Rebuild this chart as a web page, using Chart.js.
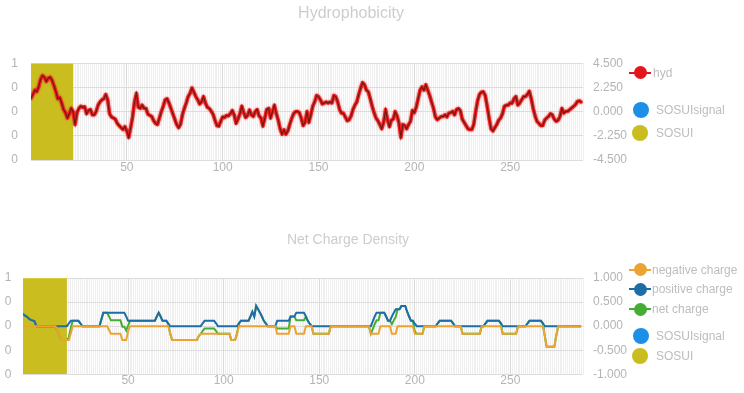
<!DOCTYPE html>
<html><head><meta charset="utf-8">
<script src="https://cdn.jsdelivr.net/npm/chart.js@4/dist/chart.umd.min.js"></script>
<style>
html,body{margin:0;padding:0;background:#fff;width:744px;height:393px;overflow:hidden;font-family:"Liberation Sans",Arial,sans-serif;}
canvas{position:absolute;left:0;}
#c1{top:0;}
#c2{top:220px;}
.lg{position:absolute;font-size:12px;color:#bdbdbd;white-space:nowrap;line-height:14px;}
.mk{position:absolute;border-radius:50%;}
.ln{position:absolute;height:2px;}
</style></head><body>
<canvas id="c1" width="702" height="195"></canvas>
<canvas id="c2" width="696" height="173"></canvas>
<div id="legend"></div>
<script>
// ---------- DATA ----------
// Hydrophobicity per residue (residue index 0..287)
const hydStart = 0;
const hyd = [
 1.24, 1.6, 2.0, 1.85, 2.3, 3.0, 3.35, 3.2, 2.8, 3.1,
 3.2, 2.9, 2.4, 1.85, 1.2, 1.3, 0.8, 0.2, -0.1, -0.6,
 -0.2, 0.3, 0.0, -1.2, -0.1, 0.3, 0.5, 0.4, 0.45, -0.2,
 0.1, 0.2, -0.3, -0.3, 0.0, 0.6, 0.9, 1.1, 1.2, 1.6,
 1.1, -0.2, -0.5, -0.6, -0.7, -1.1, -1.3, -1.5, -1.65, -1.4,
 -1.8, -2.4, -1.5, -0.5, 0.9, 1.7, 0.4, 0.3, 0.6, 0.3,
 0.3, -0.25, -0.35, -0.45, -0.85, -1.1, -1.2, -0.6, 0.0, 0.5,
 1.1, 1.2, 0.8, 0.3, -0.2, -0.7, -1.2, -1.5, -1.2, -0.3,
 0.3, 0.8, 1.4, 1.7, 2.2, 1.8, 1.4, 1.1, 0.7, 0.9,
 1.4, 0.8, 0.4, 0.3, 0.05, -0.25, -0.8, -1.3, -1.36, -0.9,
 -0.5, -0.55, -0.35, -0.4, -0.2, 0.1, -0.3, -1.1, -0.7, -0.2,
 0.5, -0.1, -0.55, -0.35, 0.15, -0.3, -0.45, 0.0, 0.2, -0.4,
 -0.6, -1.35, -0.6, 0.2, 0.3, -0.6, 0.0, 0.6, -0.2, -0.8,
 -1.6, -2.1, -1.7, -2.1, -1.8, -1.2, -0.65, -0.2, 0.0, 0.02,
 -0.1, -0.6, -1.3, -1.0, 0.0, -1.0, -0.3, 0.5, 0.9, 1.5,
 1.4, 1.1, 0.7, 0.8, 0.9, 0.8, 0.9, 0.8, 1.5, 1.4,
 0.9, 0.2, -0.14, -0.15, -0.5, -0.85, -0.75, -0.4, 0.2, 0.6,
 0.9, 1.6, 2.2, 2.7, 2.5, 2.0, 1.85, 1.2, 0.5, -0.1,
 -0.6, -0.85, -1.2, -1.6, -1.0, 0.2, -0.75, -1.4, -0.8, -0.7,
 0.0, -0.4, -1.1, -2.4, -1.2, -1.3, -1.6, -1.2, -0.9, 0.1,
 -0.1, 0.4, 1.2, 2.0, 2.3, 2.0, 2.5, 2.0, 1.5, 0.9,
 0.3, -0.5, -0.75, -0.6, -0.45, -0.45, -0.3, -0.5, -0.14, -0.1,
 0.02, -0.3, 0.2, 0.3, 0.1, -0.7, -1.0, -1.3, -1.6, -1.67,
 -1.67, -1.2, 0.0, 1.0, 1.6, 1.8, 1.85, 1.5, 0.5, -0.6,
 -1.6, -1.8, -1.5, -1.2, -0.8, -0.6, -0.2, 0.5, 0.6, 0.6,
 0.8, 0.78, 1.2, 1.4, 0.6, 0.8, 1.1, 1.4, 1.4, 1.6,
 1.9, 1.2, 0.3, -0.4, -0.9, -1.1, -1.3, -1.3, -0.8, -0.6,
 -0.45, -0.2, -0.3, -0.7, -0.9, -0.8, -0.45, 0.3, -0.14, 0.02,
 0.02, 0.17, 0.32, 0.47, 0.63, 0.93, 1.0, 0.9
];
// SOSUI predicted segment (residue from, to) on each panel
const sosuiTop = [0, 22];
const sosuiBottom = [-5, 18];
const sosuiSignal = [];

// Charge density per position (position -5..287)
const chargeStart = -5;
const positiveCharge = [
 0.25,0.22,0.2,0.16,0.13,0.12,0.1,0,0,0,
 0,0,0,0,0,0,0,0,0,0,
 0,0,0,0,0.06,0.11,0.11,0.11,0.11,0.11,
 0.06,0,0,0,0,0,0,0,0,0,
 0,0.14,0.28,0.28,0.28,0.28,0.28,0.28,0.28,0.28,
 0.28,0.28,0.28,0.28,0.2,0.11,0.11,0.11,0.11,0.11,
 0.11,0.11,0.11,0.11,0.11,0.11,0.11,0.11,0.11,0.11,
 0.2,0.28,0.2,0.11,0.11,0.11,0.05,0,0,0,
 0,0,0,0,0,0,0,0,0,0,
 0,0,0,0,0.06,0.11,0.11,0.11,0.11,0.11,
 0.11,0.06,0,0,0,0,0,0,0,0,
 0,0,0,0.06,0.11,0.11,0.11,0.11,0.11,0.2,
 0.3,0.2,0.42,0.35,0.28,0.2,0.11,0.06,0,0,
 0,0,0,0.11,0.11,0.11,0.11,0.11,0.11,0.11,
 0.2,0.2,0.2,0.28,0.28,0.28,0.28,0.28,0.2,0.11,
 0.05,0,0,0,0,0,0,0,0,0,
 0,0,0,0,0,0,0,0,0,0,
 0,0,0,0,0,0,0,0,0,0,
 0,0,0,0.1,0.2,0.28,0.28,0.28,0.28,0.28,
 0.2,0.11,0.11,0.2,0.28,0.35,0.35,0.35,0.42,0.42,
 0.42,0.3,0.2,0.11,0.11,0.05,0,0,0,0,
 0,0,0,0,0,0,0,0.06,0.11,0.11,
 0.11,0.11,0.11,0.11,0.11,0.06,0,0,0,0,
 0,0,0,0,0,0,0,0,0,0,
 0,0,0.06,0.11,0.11,0.11,0.11,0.11,0.11,0.11,
 0.06,0,0,0,0,0,0,0,0,0,
 0,0,0,0,0.06,0.11,0.11,0.11,0.11,0.11,
 0.11,0.11,0.06,0,0,0,0,0,0,0,
 0,0,0,0,0,0,0,0,0,0,
 0,0,0
];
const negativeCharge = [
 0,0,0,0,0,0,0,0,0,0,
 0,0,0,0,0,0,0,0,-0.1,-0.2,
 -0.29,-0.29,-0.29,-0.29,-0.29,-0.15,0,0,0,0,
 0,0,0,0,0,0,0,0,0,0,
 0,0,0,0,0,-0.08,-0.16,-0.16,-0.16,-0.16,
 -0.16,-0.16,-0.29,-0.29,-0.29,-0.1,0,0,0,0,
 0,0,0,0,0,0,0,0,0,0,
 0,0,0,0,0,0,0,-0.15,-0.29,-0.29,
 -0.29,-0.29,-0.29,-0.29,-0.29,-0.29,-0.29,-0.29,-0.29,-0.29,
 -0.29,-0.29,-0.2,-0.16,-0.16,-0.16,-0.16,-0.16,-0.16,-0.16,
 -0.16,-0.16,-0.16,-0.16,-0.16,-0.16,-0.16,-0.16,-0.16,-0.29,
 -0.29,-0.29,-0.15,0,0,0,0,0,0,0,
 0,0,0,0,0,0,0,0,0,0,
 0,0,0,-0.16,-0.16,-0.16,-0.16,-0.16,-0.16,-0.16,
 0,0,0,-0.16,-0.16,-0.16,-0.16,-0.16,0,0,
 0,0,-0.16,-0.16,-0.16,-0.16,-0.16,-0.16,-0.16,-0.16,
 -0.16,0,0,0,0,0,0,0,0,0,
 0,0,0,0,0,0,0,0,0,0,
 0,0,-0.16,-0.16,-0.16,-0.16,-0.16,0,0,0,
 0,0,0,-0.16,-0.16,-0.16,0,0,0,0,
 0,0,0,0,0,-0.16,-0.16,-0.16,-0.16,-0.16,
 0,0,0,0,0,0,0,0,0,0,
 0,0,0,0,0,0,0,0,0,0,
 -0.16,-0.16,-0.16,-0.16,-0.16,-0.16,-0.16,-0.16,-0.16,-0.16,
 0,0,0,0,0,0,0,0,0,0,
 0,-0.16,-0.16,-0.16,-0.16,-0.16,-0.16,-0.16,-0.16,0,
 0,0,0,0,0,0,0,0,0,0,
 0,0,0,-0.2,-0.43,-0.43,-0.43,-0.43,-0.43,-0.2,
 0,0,0,0,0,0,0,0,0,0,
 0,0,0
];
const netCharge = [
 0.25,0.22,0.2,0.16,0.13,0.12,0.1,0,0,0,
 0,0,0,0,0,0,0,0,-0.1,-0.2,
 -0.29,-0.29,-0.29,-0.29,-0.23,-0.04,0.11,0.11,0.11,0.11,
 0.06,0,0,0,0,0,0,0,0,0,
 0,0.14,0.28,0.28,0.28,0.2,0.12,0.12,0.12,0.12,
 0.12,0.12,-0.01,-0.01,-0.09,0.01,0.11,0.11,0.11,0.11,
 0.11,0.11,0.11,0.11,0.11,0.11,0.11,0.11,0.11,0.11,
 0.2,0.28,0.2,0.11,0.11,0.11,0.05,-0.15,-0.29,-0.29,
 -0.29,-0.29,-0.29,-0.29,-0.29,-0.29,-0.29,-0.29,-0.29,-0.29,
 -0.29,-0.29,-0.2,-0.16,-0.1,-0.05,-0.05,-0.05,-0.05,-0.05,
 -0.05,-0.1,-0.16,-0.16,-0.16,-0.16,-0.16,-0.16,-0.16,-0.29,
 -0.29,-0.29,-0.15,0.06,0.11,0.11,0.11,0.11,0.11,0.2,
 0.3,0.2,0.42,0.35,0.28,0.2,0.11,0.06,0,0,
 0,0,0,-0.05,-0.05,-0.05,-0.05,-0.05,-0.05,-0.05,
 0.2,0.2,0.2,0.12,0.12,0.12,0.12,0.12,0.2,0.11,
 0.05,0,-0.16,-0.16,-0.16,-0.16,-0.16,-0.16,-0.16,-0.16,
 -0.16,0,0,0,0,0,0,0,0,0,
 0,0,0,0,0,0,0,0,0,0,
 0,0,-0.16,-0.06,0.04,0.12,0.12,0.28,0.28,0.28,
 0.2,0.11,0.11,0.04,0.12,0.19,0.35,0.35,0.42,0.42,
 0.42,0.3,0.2,0.11,0.11,-0.11,-0.16,-0.16,-0.16,-0.16,
 0,0,0,0,0,0,0,0.06,0.11,0.11,
 0.11,0.11,0.11,0.11,0.11,0.06,0,0,0,0,
 -0.16,-0.16,-0.16,-0.16,-0.16,-0.16,-0.16,-0.16,-0.16,-0.16,
 0,0,0.06,0.11,0.11,0.11,0.11,0.11,0.11,0.11,
 0.06,-0.16,-0.16,-0.16,-0.16,-0.16,-0.16,-0.16,-0.16,0,
 0,0,0,0,0.06,0.11,0.11,0.11,0.11,0.11,
 0.11,0.11,0.06,-0.2,-0.43,-0.43,-0.43,-0.43,-0.43,-0.2,
 0,0,0,0,0,0,0,0,0,0,
 0,0,0
];
// Tick labels
const topLeftTicks = ['0','0','0','0','1'];      // bottom -> top
const bottomLeftTicks = ['0','0','0','0','1'];
const xTickLabels = [50, 100, 150, 200, 250];
const topTitle = 'Hydrophobicity';
const bottomTitle = 'Net Charge Density';

// ---------- STYLE ----------
const FONT = '"Liberation Sans", Arial, sans-serif';
const C = {
  hyd:'#6e1612', hydHalo:'rgba(236,30,30,0.95)', hydLegend:'#e3161b', sosui:'#c9bd20', sosuiEdge:'#e4dc5a',
  signal:'#1e8fe6', neg:'#eda332', pos:'#1f6da6', net:'#46ad34',
  tick:'#b4b4b4', title:'#cdcdcd', gridMinor:'#efefef', gridMajor:'#d9d9d9', gridH:'#dddddd'
};

// halo under the hydrophobicity line, stroked through the points the library placed
const halo = {
  id:'halo',
  beforeDatasetDraw(chart, args){
    const ds = chart.data.datasets[args.index];
    if (!ds.halo) return;
    const c = chart.ctx, a = chart.chartArea, pts = args.meta.data;
    c.save();
    c.beginPath(); c.rect(a.left, a.top, a.right - a.left, a.bottom - a.top); c.clip();
    c.beginPath();
    pts.forEach((p, i) => i ? c.lineTo(p.x, p.y) : c.moveTo(p.x, p.y));
    c.strokeStyle = ds.halo; c.lineWidth = 3.4; c.lineJoin = 'round'; c.lineCap = 'round';
    c.shadowColor = ds.halo; c.shadowBlur = 2;
    c.stroke();
    c.restore();
  }
};

function xScale(min, max, pad, h){
  return {
    type:'linear', min:min, max:max,
    ticks:{stepSize:1, autoSkip:false, maxRotation:0, minRotation:0, color:C.tick, padding:pad,
      font:{family:FONT, size:12},
      callback:v => xTickLabels.includes(v) ? String(v) : ''},
    grid:{drawTicks:false, lineWidth:1,
      color:ctx => (ctx.tick && ctx.tick.value % 50 === 0) ? C.gridMajor : C.gridMinor},
    border:{display:false},
    afterFit:s => { s.height = h; }
  };
}
function leftScale(labels, pad, w){
  return {position:'left', min:0, max:1,
    ticks:{stepSize:0.25, padding:pad, color:C.tick, font:{family:FONT, size:12}, callback:(v,i)=>labels[i]},
    grid:{display:false, drawTicks:false}, border:{display:false}, afterFit:s => { s.width = w; }};
}
function rightScale(lim, step, w){
  return {position:'right', min:-lim, max:lim,
    ticks:{stepSize:step, padding:10, color:C.tick, font:{family:FONT, size:12}, callback:v=>v.toFixed(3)},
    grid:{color:C.gridH, drawTicks:false}, border:{display:false}, afterFit:s => { s.width = w; }};
}
function segPoints(seg){ return seg.length ? [{x:seg[0], y:1}, {x:seg[1], y:1}] : []; }

// ---------- TOP CHART ----------
new Chart(document.getElementById('c1'), {
  type:'line',
  data:{datasets:[
    {label:'hyd', data:hyd.map((v,i)=>({x:hydStart+i, y:v})), yAxisID:'yR',
     borderColor:C.hyd, halo:C.hydHalo, borderWidth:1.1, pointRadius:0, tension:0, fill:false},
    {label:'SOSUIsignal', data:segPoints(sosuiSignal), yAxisID:'yL', backgroundColor:C.signal, borderWidth:0, pointRadius:0, fill:'origin'},
    {label:'SOSUI', data:segPoints(sosuiTop), yAxisID:'yL', backgroundColor:C.sosui,
     borderColor:C.sosuiEdge, borderWidth:1, pointRadius:0, fill:'origin'}
  ]},
  options:{
    responsive:false, animation:false, devicePixelRatio:1,
    layout:{padding:{left:0, right:0, top:0, bottom:15}},
    plugins:{legend:{display:false}, tooltip:{enabled:false},
      title:{display:true, text:topTitle, color:C.title, font:{family:FONT, size:16, weight:'normal'}, padding:{top:4, bottom:40}}},
    scales:{
      x:xScale(0, 288, 0, 20),
      yL:leftScale(topLeftTicks, 13, 31),
      yR:rightScale(4.5, 2.25, 119)
    }
  },
  plugins:[halo]
});

// ---------- BOTTOM CHART ----------
const chargePts = arr => arr.map((v,i)=>({x:chargeStart+i, y:v}));
new Chart(document.getElementById('c2'), {
  type:'line',
  data:{datasets:[
    {label:'negative charge', data:chargePts(negativeCharge), yAxisID:'yR', borderColor:C.neg, borderWidth:2, pointRadius:0, tension:0, fill:false},
    {label:'positive charge', data:chargePts(positiveCharge), yAxisID:'yR', borderColor:C.pos, borderWidth:2, pointRadius:0, tension:0, fill:false},
    {label:'net charge', data:chargePts(netCharge), yAxisID:'yR', borderColor:C.net, borderWidth:2, pointRadius:0, tension:0, fill:false},
    {label:'SOSUIsignal', data:segPoints(sosuiSignal), yAxisID:'yL', backgroundColor:C.signal, borderWidth:0, pointRadius:0, fill:'origin'},
    {label:'SOSUI', data:segPoints(sosuiBottom), yAxisID:'yL', backgroundColor:C.sosui,
     borderColor:C.sosuiEdge, borderWidth:1, pointRadius:0, fill:'origin'}
  ]},
  options:{
    responsive:false, animation:false, devicePixelRatio:1,
    layout:{padding:{left:0, right:0, top:0, bottom:0}},
    plugins:{legend:{display:false}, tooltip:{enabled:false},
      title:{display:true, text:bottomTitle, color:C.title, font:{family:FONT, size:14, weight:'normal'}, padding:{top:11.6, bottom:29.6}}},
    scales:{
      x:xScale(-5, 288, -1, 16),
      yL:leftScale(bottomLeftTicks, 11.5, 23),
      yR:rightScale(1, 0.5, 113)
    }
  }
});

// ---------- LEGENDS (HTML) ----------
const legendItems = [
  {name:'hyd', color:C.hydLegend, kind:'line', cx:640, cy:72.5, tx:653},
  {name:'SOSUIsignal', color:C.signal, kind:'dot', cx:641, cy:110, tx:656},
  {name:'SOSUI', color:C.sosui, kind:'dot', cx:640, cy:133, tx:656},
  {name:'negative charge', color:C.neg, kind:'line', cx:640, cy:269.5, tx:652},
  {name:'positive charge', color:C.pos, kind:'line', cx:640, cy:289, tx:652},
  {name:'net charge', color:C.net, kind:'line', cx:640, cy:309, tx:652},
  {name:'SOSUIsignal', color:C.signal, kind:'dot', cx:641, cy:336, tx:656},
  {name:'SOSUI', color:C.sosui, kind:'dot', cx:640, cy:356, tx:656}
];
const lg = document.getElementById('legend');
legendItems.forEach(it => {
  if (it.kind === 'line'){
    const l = document.createElement('div'); l.className='ln';
    l.style.cssText += `left:${it.cx-11}px;top:${it.cy-1}px;width:22px;background:${it.color};`;
    lg.appendChild(l);
    const d = document.createElement('div'); d.className='mk';
    d.style.cssText += `left:${it.cx-6.5}px;top:${it.cy-6.5}px;width:13px;height:13px;background:${it.color};`;
    lg.appendChild(d);
  } else {
    const d = document.createElement('div'); d.className='mk';
    d.style.cssText += `left:${it.cx-8}px;top:${it.cy-8}px;width:16px;height:16px;background:${it.color};`;
    lg.appendChild(d);
  }
  const t = document.createElement('div'); t.className='lg'; t.textContent = it.name;
  t.style.left = it.tx + 'px'; t.style.top = (it.cy - 7) + 'px';
  lg.appendChild(t);
});
</script>
</body></html>
